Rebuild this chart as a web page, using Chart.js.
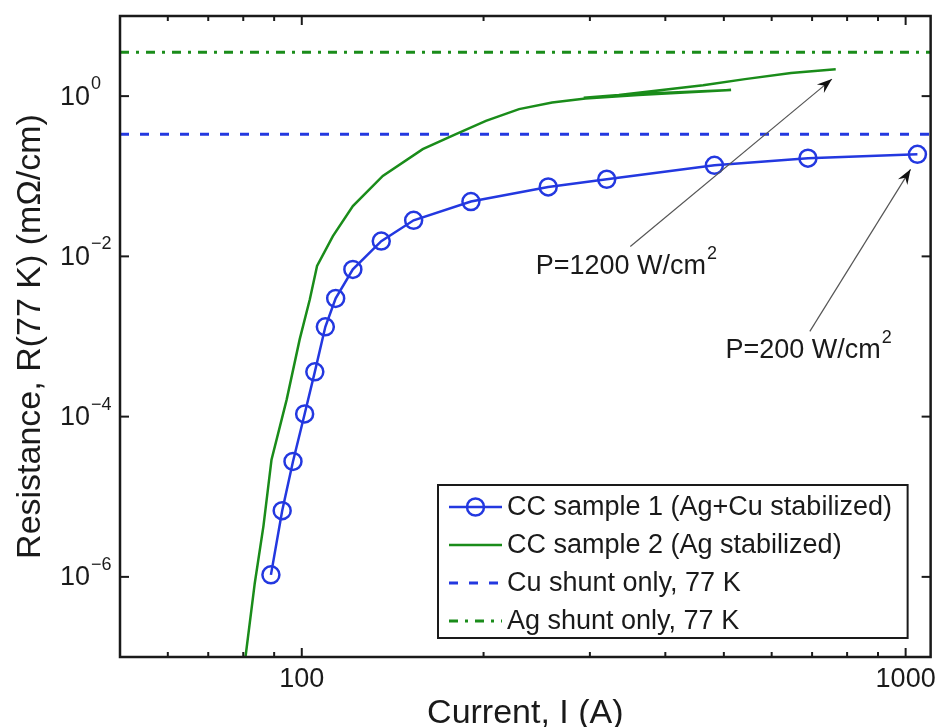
<!DOCTYPE html>
<html>
<head>
<meta charset="utf-8">
<script src="https://cdn.jsdelivr.net/npm/chart.js@4.4.1/dist/chart.umd.min.js"></script>
<style>
  html, body { margin: 0; padding: 0; background: #fff; }
  #wrap { width: 942px; height: 727px; }
</style>
</head>
<body>
<div id="wrap"><canvas id="chart"></canvas></div>
<script>
// CC sample 1 (Ag+Cu stabilized), measured points
const sample1Current = [88.9, 92.8, 96.7, 101.1, 105.1, 109.4, 113.8, 121.5, 135.4, 153.2, 190.6, 255.9, 319.9, 482.3, 689, 1046];
const sample1Resistance = [1.06e-6, 6.7e-6, 2.76e-5, 1.08e-4, 3.62e-4, 1.32e-3, 2.99e-3, 6.88e-3, 0.0155, 0.0282, 0.0483, 0.0735, 0.0917, 0.137, 0.168, 0.188];

// CC sample 2 (Ag stabilized): first ramp, ramp down, second ramp
const sample2Current = [80, 83.6, 86.4, 89.1, 94.4, 99.2, 103.1, 106, 112.6, 121.5, 136.2, 158.6, 180, 201.8, 229, 259.8, 295, 361, 514, 375, 293, 335, 462, 542, 646, 766];
const sample2Resistance = [6e-8, 8.4e-7, 4.3e-6, 2.9e-5, 1.63e-4, 9.2e-4, 2.9e-3, 7.6e-3, 0.0179, 0.0425, 0.101, 0.218, 0.335, 0.491, 0.688, 0.834, 0.936, 1.03, 1.19, 1.075, 0.957, 1.03, 1.37, 1.63, 1.94, 2.17];

// shunt-only resistance at 77 K
const cuShuntResistance = 0.335;
const agShuntResistance = 3.52;

// axes
const currentRange = [50, 1100];
const resistanceRange = [1e-7, 10];
const currentTicks = [60, 70, 80, 90, 100, 200, 300, 400, 500, 600, 700, 800, 900, 1000];
const currentLabels = [100, 1000];
const resistanceExponents = [-6, -4, -2, 0];

// power notes: text anchor, arrow tail, arrow head (I, R)
const powerNotes = [
    { text: 'P=1200 W/cm', sup: '2', at: [244, 7.5e-3], from: [350, 0.0133], to: [755, 1.63] },
    { text: 'P=200 W/cm', sup: '2', at: [503, 6.7e-4], from: [694, 1.16e-3], to: [1019, 0.122] }
];

const FONT = '"Liberation Sans", Arial, Helvetica, sans-serif';
const INK = '#1a1a1a';
const BLUE = '#2338e0';
const GREEN = '#1a8c1a';

const toPoints = (xs, ys) => xs.map((v, i) => ({ x: v, y: ys[i] }));
const flat = (value) => [{ x: currentRange[0], y: value }, { x: currentRange[1], y: value }];

// frame, inward ticks, y labels with exponents, legend and notes
const matlabAxes = {
    id: 'matlabAxes',
    afterDatasetsDraw(chart) {
        const { ctx, chartArea: a, scales: { x, y } } = chart;
        const seg = (x1, y1, x2, y2) => {
            ctx.beginPath();
            ctx.moveTo(x1, y1);
            ctx.lineTo(x2, y2);
            ctx.stroke();
        };

        ctx.save();
        ctx.strokeStyle = INK;
        ctx.lineWidth = 2;
        currentTicks.forEach(v => {
            const px = x.getPixelForValue(v);
            const len = currentLabels.includes(v) ? 9 : 5;
            seg(px, a.bottom, px, a.bottom - len);
            seg(px, a.top, px, a.top + len);
        });
        resistanceExponents.forEach(e => {
            const py = y.getPixelForValue(Math.pow(10, e));
            seg(a.left, py, a.left + 9, py);
            seg(a.right, py, a.right - 9, py);
        });
        ctx.lineWidth = 2.5;
        ctx.strokeRect(a.left, a.top, a.right - a.left, a.bottom - a.top);

        // y tick labels: 10 with raised exponent
        ctx.fillStyle = INK;
        ctx.textBaseline = 'middle';
        resistanceExponents.forEach(e => {
            const py = y.getPixelForValue(Math.pow(10, e));
            ctx.font = '27px ' + FONT;
            ctx.textAlign = 'right';
            ctx.fillText('10', a.left - 30, py + 1);
            ctx.font = '18px ' + FONT;
            ctx.textAlign = 'left';
            ctx.fillText(e < 0 ? '\u2212' + (-e) : String(e), a.left - 29, py - 12);
        });

        // power notes with arrows
        powerNotes.forEach(n => {
            const x1 = x.getPixelForValue(n.from[0]), y1 = y.getPixelForValue(n.from[1]);
            const x2 = x.getPixelForValue(n.to[0]), y2 = y.getPixelForValue(n.to[1]);
            ctx.strokeStyle = '#555';
            ctx.lineWidth = 1.2;
            seg(x1, y1, x2, y2);
            const ang = Math.atan2(y2 - y1, x2 - x1);
            ctx.fillStyle = '#111';
            ctx.beginPath();
            ctx.moveTo(x2, y2);
            ctx.lineTo(x2 - 15 * Math.cos(ang) + 5.5 * Math.sin(ang), y2 - 15 * Math.sin(ang) - 5.5 * Math.cos(ang));
            ctx.lineTo(x2 - 10 * Math.cos(ang), y2 - 10 * Math.sin(ang));
            ctx.lineTo(x2 - 15 * Math.cos(ang) - 5.5 * Math.sin(ang), y2 - 15 * Math.sin(ang) + 5.5 * Math.cos(ang));
            ctx.closePath();
            ctx.fill();

            const tx = x.getPixelForValue(n.at[0]), ty = y.getPixelForValue(n.at[1]);
            ctx.fillStyle = INK;
            ctx.textAlign = 'left';
            ctx.font = '27px ' + FONT;
            ctx.fillText(n.text, tx, ty);
            const w = ctx.measureText(n.text).width;
            ctx.font = '18px ' + FONT;
            ctx.fillText(n.sup, tx + w + 1, ty - 12);
        });

        // legend box in the lower right corner
        const box = { left: a.left + 318, right: a.right - 23, top: a.bottom - 172, bottom: a.bottom - 19 };
        ctx.fillStyle = '#fff';
        ctx.fillRect(box.left, box.top, box.right - box.left, box.bottom - box.top);
        ctx.strokeStyle = INK;
        ctx.lineWidth = 2;
        ctx.strokeRect(box.left, box.top, box.right - box.left, box.bottom - box.top);
        chart.data.datasets.forEach((ds, i) => {
            const cy = box.top + 22 + i * 38;
            const lx1 = box.left + 11, lx2 = box.left + 64;
            ctx.strokeStyle = ds.borderColor;
            ctx.lineWidth = ds.borderWidth;
            ctx.setLineDash(ds.borderDash || []);
            seg(lx1, cy, lx2, cy);
            ctx.setLineDash([]);
            if (ds.pointRadius) {
                ctx.lineWidth = ds.pointBorderWidth;
                ctx.beginPath();
                ctx.arc((lx1 + lx2) / 2, cy, ds.pointRadius, 0, Math.PI * 2);
                ctx.stroke();
            }
            ctx.fillStyle = INK;
            ctx.font = '27px ' + FONT;
            ctx.textAlign = 'left';
            ctx.textBaseline = 'middle';
            ctx.fillText(ds.label, lx2 + 5, cy + 1);
        });
        ctx.restore();
    }
};

new Chart(document.getElementById('chart'), {
    type: 'line',
    data: {
        datasets: [
            {
                label: 'CC sample 1 (Ag+Cu stabilized)',
                data: toPoints(sample1Current, sample1Resistance),
                borderColor: BLUE,
                borderWidth: 2.5,
                pointRadius: 8.5,
                pointBorderWidth: 2.5,
                pointBorderColor: BLUE,
                pointBackgroundColor: 'rgba(0,0,0,0)',
                pointHoverRadius: 8.5
            },
            {
                label: 'CC sample 2 (Ag stabilized)',
                data: toPoints(sample2Current, sample2Resistance),
                borderColor: GREEN,
                borderWidth: 2.5,
                pointRadius: 0
            },
            {
                label: 'Cu shunt only, 77 K',
                data: flat(cuShuntResistance),
                borderColor: BLUE,
                borderWidth: 3,
                borderDash: [9, 11],
                pointRadius: 0
            },
            {
                label: 'Ag shunt only, 77 K',
                data: flat(agShuntResistance),
                borderColor: GREEN,
                borderWidth: 3,
                borderDash: [9, 7, 3, 7],
                pointRadius: 0
            }
        ]
    },
    options: {
        responsive: true,
        maintainAspectRatio: false,
        animation: false,
        layout: { padding: { top: 16, right: 9, left: 0, bottom: 0 } },
        plugins: {
            legend: { display: false },
            tooltip: { enabled: false }
        },
        scales: {
            x: {
                type: 'logarithmic',
                min: currentRange[0],
                max: currentRange[1],
                grid: { display: false, drawTicks: false },
                border: { display: false },
                afterBuildTicks: (scale) => {
                    scale.ticks = currentTicks.map(v => ({ value: v }));
                },
                afterFit: (scale) => { scale.height = 70; },
                ticks: {
                    autoSkip: false,
                    maxRotation: 0,
                    padding: 6,
                    color: INK,
                    font: { family: FONT, size: 27 },
                    callback: (value) => currentLabels.includes(value) ? String(value) : ''
                },
                title: {
                    display: true,
                    text: 'Current, I (A)',
                    color: INK,
                    padding: 0,
                    font: { family: FONT, size: 34, lineHeight: 0.8 }
                }
            },
            y: {
                type: 'logarithmic',
                min: resistanceRange[0],
                max: resistanceRange[1],
                grid: { display: false, drawTicks: false },
                border: { display: false },
                ticks: { display: false },
                afterFit: (scale) => { scale.width = 120; },
                title: {
                    display: true,
                    text: 'Resistance, R(77 K) (m\u03a9/cm)',
                    color: INK,
                    padding: { top: 14, bottom: 0 },
                    font: { family: FONT, size: 34, lineHeight: 1 }
                }
            }
        }
    },
    plugins: [matlabAxes]
});
</script>
</body>
</html>
